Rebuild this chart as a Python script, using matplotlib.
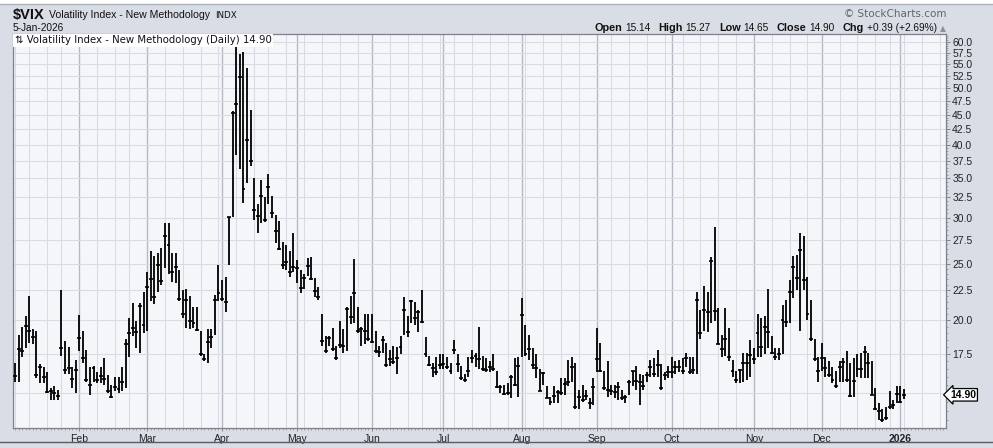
import matplotlib.pyplot as plt
import matplotlib.ticker as mticker
from matplotlib.lines import Line2D
from matplotlib.patches import Rectangle
import numpy as np
import pandas as pd

# trading calendar (NYSE closures) - last 11 days are empty future slots
holidays = ["2025-01-09", "2025-01-20", "2025-02-17", "2025-04-18", "2025-05-26",
            "2025-06-19", "2025-07-04", "2025-09-01", "2025-11-27", "2025-12-25",
            "2026-01-01", "2026-01-19"]
dates = pd.bdate_range("2025-01-06", "2026-01-21", freq="C", holidays=holidays)

high = [
    16.9, 18.9, 19.5, 20.3, 22.0, 19.3, 19.2, 16.8, 16.6, 16.3, 15.3, 15.4, 15.2, 22.5, 18.4, 18.0, 16.6, 17.1,
    20.4, 19.2, 17.8, 16.6, 16.7, 16.3, 16.6, 17.2, 16.1, 15.5, 16.0, 16.0, 16.6, 18.6, 20.2, 21.4, 19.9, 21.4, 22.4,
    24.2, 26.3, 25.8, 26.1, 26.6, 29.3, 29.3, 26.1, 26.1, 24.4, 22.5, 22.6, 22.0, 21.1, 21.1, 19.2, 17.5, 19.3, 19.3, 22.1, 24.9,
    23.4, 23.7, 30.1, 45.6, 58.8, 57.2, 57.6, 54.2, 45.9, 35.1, 31.6, 34.8, 32.5, 35.6, 32.6, 30.3, 29.6, 27.2, 26.9, 26.3, 28.2,
    25.4, 24.4, 24.0, 25.6, 25.7, 23.6, 22.8, 20.5, 18.8, 18.8, 19.4, 18.1, 19.9, 19.3, 21.1, 22.0, 25.5, 21.1, 19.5, 20.5, 20.5,
    20.5, 19.2, 18.1, 18.8, 18.3, 17.8, 18.1, 18.0, 18.8, 21.9, 20.3, 21.7, 21.5, 20.8, 22.5, 18.7, 17.4, 16.9, 17.3, 17.5,
    17.5, 17.3, 16.9, 18.5, 17.5, 16.7, 16.2, 17.3, 17.8, 17.6, 19.5, 17.4, 17.2, 17.0, 17.5, 16.4, 15.5, 15.5, 15.6, 16.1, 17.2, 17.3,
    21.8, 19.6, 18.9, 17.9, 17.5, 16.5, 16.3, 15.4, 14.8, 15.4, 15.2, 15.9, 15.9, 17.1, 17.3, 16.9, 15.2, 15.5, 15.2, 14.7, 15.9,
    19.4, 18.3, 16.4, 17.0, 15.5, 15.5, 15.7, 15.2, 14.9, 15.8, 16.4, 16.7, 16.2, 16.1, 16.3, 17.1, 17.2, 17.8, 16.8, 16.3, 16.7,
    17.3, 17.0, 17.1, 17.2, 17.6, 17.3, 17.3, 22.4, 20.8, 22.9, 22.4, 25.7, 28.9, 21.0, 18.9, 21.0, 19.4, 17.1, 16.4, 16.5, 17.6, 17.6, 18.5,
    17.9, 20.5, 20.2, 20.3, 22.6, 18.8, 17.9, 17.9, 21.2, 21.7, 23.4, 25.8, 25.9, 28.2, 27.9, 23.7, 21.7, 18.6, 17.3,
    18.3, 17.3, 17.0, 16.6, 16.4, 17.0, 17.2, 17.7, 16.9, 17.2, 17.5, 17.6, 18.1, 17.6, 17.0, 15.3, 14.4, 14.1, 14.2, 15.1, 14.6, 15.4,
    15.4, 15.27,
]

low = [
    15.7, 15.7, 17.3, 17.9, 18.3, 18.2, 15.9, 15.6, 15.6, 15.0, 14.6, 14.6, 14.6, 17.4, 16.2, 16.2, 15.3, 15.0,
    17.7, 16.9, 15.7, 14.9, 15.7, 15.6, 15.6, 15.5, 15.0, 14.7, 15.1, 15.0, 15.1, 15.3, 17.3, 18.8, 17.9, 17.6, 19.0,
    19.2, 21.6, 21.3, 22.4, 23.0, 24.6, 24.0, 23.3, 23.2, 21.6, 20.2, 19.4, 19.3, 19.4, 19.2, 17.4, 17.0, 16.9, 17.9, 18.9, 21.6,
    21.6, 20.7, 24.9, 30.1, 38.4, 36.4, 31.8, 34.4, 36.7, 29.7, 28.2, 29.4, 29.5, 31.7, 30.0, 27.1, 26.4, 24.5, 24.4, 23.7, 24.2,
    23.2, 22.3, 22.6, 23.8, 23.4, 21.9, 21.7, 18.1, 17.6, 18.1, 17.7, 17.1, 17.9, 17.6, 17.7, 19.7, 19.8, 19.0, 18.1, 18.2, 18.4,
    18.3, 17.6, 17.3, 17.6, 16.6, 16.7, 16.8, 16.2, 17.5, 18.9, 18.7, 19.8, 19.6, 19.1, 19.8, 17.3, 16.7, 16.0, 16.1, 16.5,
    16.5, 16.5, 16.2, 17.5, 16.3, 15.8, 15.7, 16.0, 16.9, 16.6, 16.5, 16.4, 16.3, 16.3, 16.4, 15.3, 15.0, 14.9, 14.9, 14.7, 15.4, 14.8,
    17.3, 17.4, 17.1, 16.5, 15.9, 15.1, 15.5, 14.7, 14.3, 14.4, 14.4, 14.9, 14.9, 15.4, 15.7, 14.1, 14.1, 14.5, 14.6, 14.1, 14.3,
    16.3, 16.3, 15.2, 14.8, 14.9, 14.7, 14.6, 14.6, 14.4, 14.9, 15.4, 15.2, 14.3, 15.2, 15.7, 16.0, 16.0, 16.0, 15.2, 15.8, 15.9,
    15.9, 16.2, 16.3, 16.2, 16.6, 16.2, 16.2, 16.2, 18.6, 19.2, 19.1, 19.8, 19.9, 18.2, 17.3, 17.4, 17.0, 16.0, 15.6, 15.6, 15.7, 15.8, 16.0,
    16.8, 17.3, 17.3, 17.5, 17.9, 17.5, 17.1, 17.1, 17.5, 19.5, 19.8, 21.8, 22.5, 19.2, 22.5, 20.0, 18.4, 17.0, 15.7,
    16.4, 16.0, 16.0, 15.6, 15.3, 15.7, 15.7, 15.7, 14.8, 14.8, 16.0, 15.9, 15.9, 15.9, 14.9, 14.05, 13.5, 13.4, 13.5, 14.1, 14.1, 14.4,
    14.4, 14.65,
]

close = [
    16.04, 17.82, 17.70, 19.54, 19.19, 18.71, 16.12, 16.60, 15.97, 15.06, 15.10, 15.02, 14.85, 17.90, 16.41, 16.56, 15.84, 16.43,
    18.62, 17.21, 15.77, 15.50, 16.54, 15.81, 16.02, 15.89, 15.10, 14.77, 15.35, 15.27, 15.66, 18.21, 18.98, 19.43, 19.10, 21.13, 19.63,
    22.78, 23.51, 21.93, 24.87, 23.37, 27.86, 26.92, 24.23, 24.66, 21.77, 20.51, 21.70, 19.90, 19.80, 19.28, 17.48, 17.15, 18.33, 18.69, 21.65, 22.28,
    21.77, 21.51, 30.02, 45.31, 46.98, 52.33, 33.62, 40.72, 37.56, 30.89, 30.12, 32.64, 29.65, 33.82, 30.57, 28.45, 26.47, 24.84, 25.15, 24.17, 24.70,
    24.60, 22.68, 23.64, 24.76, 23.55, 22.48, 21.90, 18.39, 17.72, 18.62, 17.83, 17.24, 18.14, 18.09, 20.87, 20.28, 22.29, 19.18, 19.31, 19.18, 18.57,
    18.36, 17.69, 17.61, 18.48, 16.77, 17.16, 16.95, 17.26, 18.02, 20.82, 19.11, 21.60, 20.14, 20.62, 19.83, 17.48, 16.76, 16.59, 16.32, 16.73,
    16.83, 16.64, 16.38, 17.79, 16.81, 15.94, 15.78, 16.40, 17.20, 17.38, 17.16, 16.52, 16.41, 16.65, 16.50, 15.37, 15.39, 14.93, 15.03, 15.98, 15.48, 16.72,
    20.38, 17.52, 17.85, 16.77, 16.57, 15.15, 16.25, 14.73, 14.49, 14.83, 15.09, 15.00, 15.57, 15.69, 16.60, 14.22, 14.79, 14.62, 14.85, 14.43, 15.36,
    17.17, 16.35, 15.30, 15.18, 15.11, 15.04, 15.35, 14.71, 14.76, 15.69, 16.36, 15.72, 15.70, 15.45, 16.10, 16.64, 16.18, 16.74, 15.29, 16.12, 16.28,
    16.29, 16.63, 16.65, 16.37, 17.24, 16.30, 16.43, 21.66, 19.03, 20.81, 20.64, 25.31, 20.78, 18.23, 17.87, 18.60, 17.30, 16.37, 15.79, 16.42, 16.92, 16.91, 17.44,
    17.17, 19.00, 18.01, 19.50, 19.08, 17.60, 17.28, 17.51, 20.00, 19.83, 22.38, 24.69, 23.66, 26.42, 23.43, 20.52, 18.56, 17.19, 16.35,
    17.24, 16.59, 16.08, 15.78, 15.41, 16.66, 16.93, 15.77, 14.85, 15.74, 16.50, 16.48, 17.62, 16.87, 14.91, 14.08, 14.00, 13.47, 13.60, 14.20, 14.33, 14.95,
    14.51, 14.90,
]

y_levels = [15.0, 17.5, 20.0, 22.5, 25.0, 27.5, 30.0, 32.5, 35.0, 37.5, 40.0,
            42.5, 45.0, 47.5, 50.0, 52.5, 55.0, 57.5, 60.0]
month_names = ["Feb", "Mar", "Apr", "May", "Jun", "Jul", "Aug", "Sep",
               "Oct", "Nov", "Dec", "2026"]
quote = [("Open", "15.14"), ("High", "15.27"), ("Low", "14.65"),
         ("Close", "14.90"), ("Chg", "+0.39 (+2.69%)")]

x = np.arange(len(close))
xall = np.arange(len(dates))

W, H = 993, 448
fig = plt.figure(figsize=(W / 100, H / 100), dpi=100, facecolor="#d9dde6")
fig.patches.append(Rectangle((0, 1 - 4 / H), 1, 4 / H, transform=fig.transFigure,
                             facecolor="white", edgecolor="none"))
fig.add_artist(Line2D([0, 1], [1 - 4.5 / H] * 2, color="#aeb2bb", lw=1))
fig.add_artist(Line2D([0, 1], [6 / H] * 2, color="#5a5d63", lw=1))

ax = fig.add_axes([13 / W, 20 / H, 933 / W, 394 / H])
ax.set_facecolor("#f5f6fa")

# grid: weekly lines light, month lines darker
week = dates.to_period("W")
month = dates.to_period("M")
new_week = np.r_[True, week[1:] != week[:-1]]
new_month = np.r_[False, month[1:] != month[:-1]]
for i in xall[new_week & ~new_month]:
    ax.axvline(i, color="#d8dbe2", lw=0.75, zorder=0)
for i in xall[new_month]:
    ax.axvline(i, color="#b5b9c3", lw=1.0, zorder=0)
for v in y_levels:
    ax.axhline(v, color="#d8dbe2", lw=0.75, zorder=0)

ax.vlines(x, low, high, color="black", lw=1.3, zorder=3)
ax.hlines(close, x - 0.55, x + 0.55, color="black", lw=1.2, zorder=3)

ax.set_yscale("log")
ax.set_ylim(13.07, 61.9)
ax.set_xlim(-0.56, 260.8)

ax.yaxis.tick_right()
ax.yaxis.set_major_locator(mticker.FixedLocator(y_levels[1:]))
ax.yaxis.set_major_formatter(mticker.FuncFormatter(lambda v, p: "%.1f" % v))
ax.yaxis.set_minor_locator(mticker.FixedLocator(np.arange(13.5, 61.9, 0.5)))
ax.yaxis.set_minor_formatter(mticker.NullFormatter())
ax.tick_params(axis="y", which="major", length=3, width=0.6, color="#777",
               labelsize=7.5, pad=1.5, labelcolor="#222")
ax.tick_params(axis="y", which="minor", length=1.5, width=0.5, color="#888")

ax.set_xticks(xall[new_month])
ax.set_xticklabels(month_names)
ax.xaxis.set_minor_locator(mticker.FixedLocator(xall))
ax.tick_params(axis="x", which="major", length=2, width=0.6, color="#777",
               labelsize=7.5, pad=2, labelcolor="#222")
ax.tick_params(axis="x", which="minor", length=1.5, width=0.5, color="#888")
for lab in ax.get_xticklabels() + ax.get_yticklabels():
    lab.set_family("Liberation Sans")
ax.get_xticklabels()[-1].set_fontweight("bold")

for s in ax.spines.values():
    s.set_color("#7d8089")
    s.set_linewidth(0.9)

ax.text(0.002, 0.997, "\u21c5 Volatility Index - New Methodology (Daily) 14.90",
        transform=ax.transAxes, ha="left", va="top", fontsize=7.3, color="#111",
        bbox=dict(facecolor="white", edgecolor="none", pad=1.2), zorder=5)

# last value marker on the price scale
ax.text(1.0045, close[-1], "%.2f" % close[-1], transform=ax.get_yaxis_transform(),
        ha="left", va="center", fontsize=7.5, fontweight="bold", family="Liberation Sans",
        bbox=dict(boxstyle="larrow,pad=0.12", facecolor="white", edgecolor="black", lw=0.9),
        zorder=6, clip_on=False)

# header, laid out piece by piece with measured widths
renderer = fig.canvas.get_renderer()


def place(px, py, s, **kw):
    t = fig.text(px / W, 1 - py / H, s, va="center", color="#111", **kw)
    return px + t.get_window_extent(renderer).width


end = place(13, 15, "$VIX", fontsize=10.5, fontweight="bold", family="Liberation Sans")
end = place(end + 4, 15, "Volatility Index - New Methodology", fontsize=7.6,
            family="Liberation Sans")
place(end + 5, 15.5, "INDX", fontsize=6.3, family="DejaVu Sans")
place(13, 28, "5-Jan-2026", fontsize=7.3, family="Liberation Sans")
fig.text(946 / W, 1 - 14 / H, "\u00a9 StockCharts.com", fontsize=7.5, family="DejaVu Sans",
         ha="right", va="center", color="#666")

# measure the quote line first so that it ends at the right place
pieces = []
for name, val in quote:
    pieces.append((name, dict(fontsize=7.8, fontweight="bold", family="Liberation Sans"), 3))
    pieces.append((val, dict(fontsize=7.3, family="Liberation Sans"), 8))
widths = []
for s, kw, gap in pieces:
    t = fig.text(0, 0, s, **kw)
    widths.append(t.get_window_extent(renderer).width + gap)
    t.remove()
px = 937 - (sum(widths) - 8)
for (s, kw, gap), w in zip(pieces, widths):
    fig.text(px / W, 1 - 28 / H, s, va="center", color="#111", **kw)
    px += w
fig.text(940 / W, 1 - 28.5 / H, "\u25b2", fontsize=5.5, va="center", color="#8a8f98")

fig.savefig("out.png", dpi=100, facecolor=fig.get_facecolor())
